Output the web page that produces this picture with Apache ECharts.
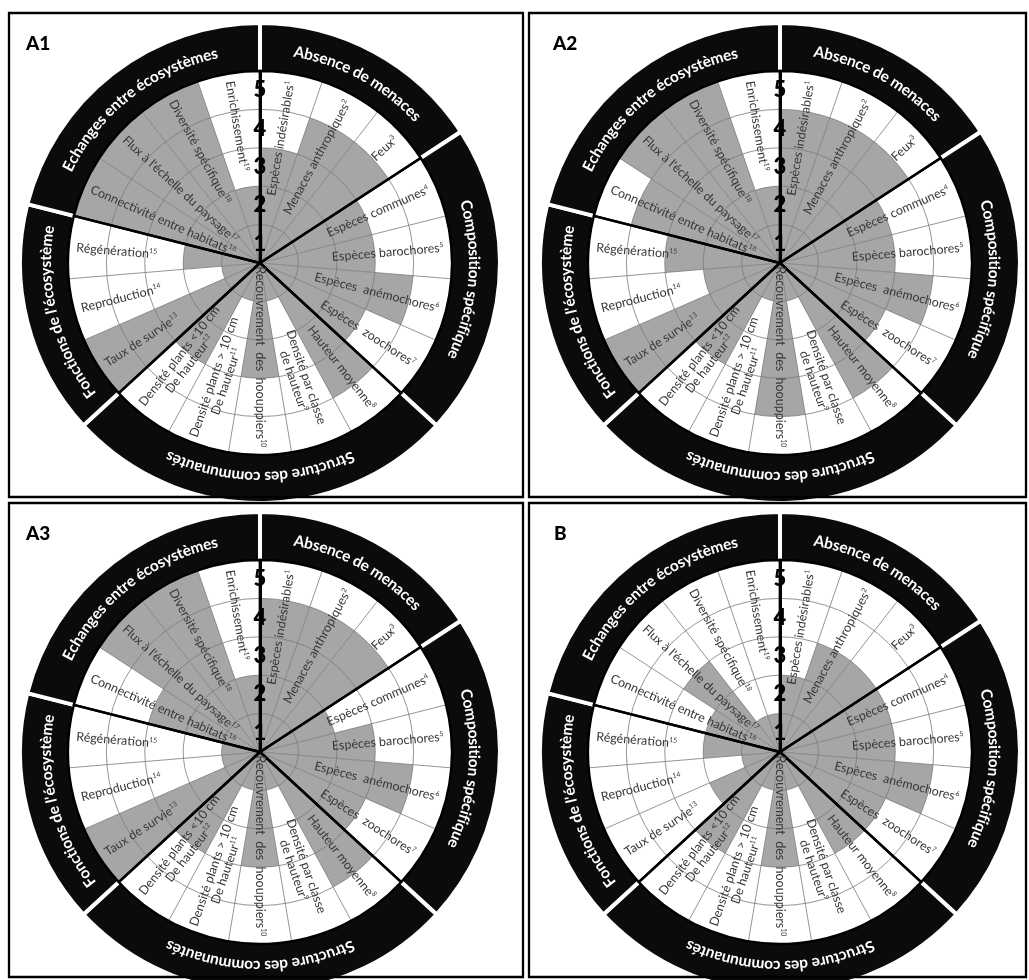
<!DOCTYPE html>
<html><head><meta charset="utf-8">
<script src="https://cdn.jsdelivr.net/npm/echarts@6/dist/echarts.min.js"></script>
<style>html,body{margin:0;padding:0;background:#fff}#c{width:1029px;height:980px}</style>
</head><body><div id="c"></div>
<script>
const categories = [
  'Espèces indésirables', 'Menaces anthropiques', 'Feux', 'Espèces communes',
  'Espèces barochores', 'Espèces  anémochores', 'Espèces  zoochores', 'Hauteur moyenne',
  'Densité par classe\nde hauteur', 'Recouvrement  des  hoouppiers', 'Densité plants > 10 cm\nDe hauteur',
  'Densité plants <10 cm\nDe hauteur', 'Taux de survie', 'Reproduction', 'Régénération',
  'Connectivité entre habitats', "Flux à l'échelle du paysage", 'Diversité spécifique', 'Enrichissement'
];
const groupNames = ['Absence de menaces', 'Composition spécifique', 'Structure des communautés',
  "Fonctions de l'écosystème", 'Echanges entre écosystèmes'];
const groupSizes = [3, 4, 5, 3, 4];
const radiusTicks = ['1', '2', '3', '4', '5'];
const panelNames = ['A1', 'A2', 'A3', 'B'];
const valuesA1 = [3, 4, 4, 3, 3, 4, 3, 4, 1, 3, 1, 3, 5, 1, 2, 5, 5, 5, 2];
const valuesA2 = [4, 4, 4, 3, 3, 4, 3, 4, 1, 4, 1, 3, 5, 2, 3, 4, 5, 5, 2];
const valuesA3 = [4, 4, 4, 2, 3, 4, 3, 4, 1, 3, 1, 3, 5, 1, 1, 3, 5, 5, 2];
const valuesB  = [2, 3, 3, 3, 3, 4, 3, 3, 1, 3, 1, 3, 2, 1, 2, 2, 3, 1, 1];
const panelValues = [valuesA1, valuesA2, valuesA3, valuesB];

// layout
const panels = [
  {cx: 260, cy: 263, lx: 26, ly: 34, box: [9, 13, 514, 484]},
  {cx: 780, cy: 263, lx: 553, ly: 34, box: [529, 13, 497, 484]},
  {cx: 260, cy: 752, lx: 26, ly: 524, box: [9, 503, 514, 474]},
  {cx: 780, cy: 752, lx: 554, ly: 524, box: [529, 503, 497, 474]}
];
const R5 = 192, RING_IN = 190, RING_OUT = 240, R_TEXT = 214;
const GRID = '#7a7a7a', FILL = '#a6a6a6', TXT = '#383838';
const ringFont = 'bold 15.5px Lato';

const measureCtx = document.createElement('canvas').getContext('2d');
measureCtx.font = ringFont;

const option = {
  animation: false,
  backgroundColor: '#fff',
  polar: [], angleAxis: [], radiusAxis: [], series: [], graphic: []
};

function labelText(name, i) {
  const lines = name.split('\n');
  return lines.map((l, k) => '{t|' + l + '}' + (k === lines.length - 1 ? '{s|' + (i + 1) + '}' : '')).join('\n');
}

panels.forEach((P, p) => {
  const main = 2 * p, aux = 2 * p + 1;
  option.polar.push({center: [P.cx, P.cy], radius: R5});
  option.polar.push({center: [P.cx, P.cy], radius: R5});
  option.angleAxis.push({
    polarIndex: main, type: 'category', data: categories, startAngle: 90, clockwise: true,
    boundaryGap: true, z: 3,
    axisLine: {show: false}, axisTick: {show: false}, axisLabel: {show: false},
    splitLine: {show: true, lineStyle: {color: GRID, width: 0.8}}
  });
  option.radiusAxis.push({
    polarIndex: main, type: 'value', min: 0, max: 5, interval: 1, z: 3,
    axisLine: {show: true, lineStyle: {color: '#000', width: 3}},
    axisTick: {show: false}, axisLabel: {show: false},
    splitLine: {show: true, lineStyle: {color: GRID, width: 0.8}}
  });
  option.angleAxis.push({polarIndex: aux, type: 'value', min: 0, max: 19, startAngle: 90, show: false});
  option.radiusAxis.push({
    polarIndex: aux, type: 'category', data: radiusTicks, z: 6,
    axisLine: {show: false}, axisTick: {show: false}, splitLine: {show: false},
    axisLabel: {show: true, margin: 0, align: 'center', verticalAlign: 'middle',
      fontSize: 22, fontWeight: 900, color: '#000', fontFamily: 'Lato'}
  });

  // black outer ring with group gaps
  option.series.push({
    type: 'pie', center: [P.cx, P.cy], radius: [RING_IN, RING_OUT], startAngle: 90, clockwise: true,
    silent: true, z: 1, label: {show: false}, labelLine: {show: false}, emphasis: {disabled: true},
    itemStyle: {color: '#0b0b0b', borderColor: '#fff', borderWidth: 4},
    data: groupSizes.map((v, i) => ({value: v, name: groupNames[i]}))
  });
  // bars
  option.series.push({
    type: 'bar', coordinateSystem: 'polar', polarIndex: main, barCategoryGap: '0%', z: 2,
    itemStyle: {color: FILL}, silent: true,
    data: panelValues[p]
  });
  // group dividers
  option.series.push({
    type: 'pie', center: [P.cx, P.cy], radius: [0, R5], startAngle: 90, clockwise: true,
    silent: true, z: 4, label: {show: false}, labelLine: {show: false}, emphasis: {disabled: true},
    itemStyle: {color: 'rgba(0,0,0,0)', borderColor: '#000', borderWidth: 2.4},
    data: groupSizes.map((v, i) => ({value: v, name: groupNames[i]}))
  });
  // sector labels
  option.series.push({
    type: 'custom', coordinateSystem: 'polar', polarIndex: main, z: 5, silent: true,
    data: categories.map((c, i) => [5, i]),
    renderItem: function (params, api) {
      const i = params.dataIndex;
      const name = categories[i];
      const multi = name.indexOf('\n') >= 0;
      const c0 = api.coord([0, i]);
      const pt = api.coord([multi ? 3.2 : 4.8, i]);
      const dx = pt[0] - c0[0], dy = pt[1] - c0[1];
      let th = Math.atan2(dx, -dy) * 180 / Math.PI;
      if (th < 0) th += 360;
      const right = th <= 180.5;
      const phi = (right ? 90 - th : 270 - th) * Math.PI / 180;
      return {
        type: 'text', x: pt[0], y: pt[1], rotation: phi,
        style: {
          text: labelText(name, i),
          align: multi ? 'center' : (right ? 'right' : 'left'),
          verticalAlign: 'middle',
          rich: {
            t: {fontSize: 12.5, fontFamily: 'Lato', fill: TXT, lineHeight: 13},
            s: {fontSize: 7, fontFamily: 'Lato', fill: TXT, lineHeight: 8, verticalAlign: 'top'}
          }
        }
      };
    }
  });

  // panel border and label
  option.graphic.push({type: 'rect', silent: true, z: 20,
    shape: {x: P.box[0], y: P.box[1], width: P.box[2], height: P.box[3]},
    style: {fill: 'none', stroke: '#000', lineWidth: 2.3}});
  option.graphic.push({type: 'text', x: P.lx, y: P.ly, silent: true, z: 20,
    style: {text: panelNames[p], font: '900 19px Lato', fill: '#000', verticalAlign: 'top'}});

  // curved group names on the ring
  const total = groupSizes.reduce((a, b) => a + b, 0);
  let cum = 0;
  groupNames.forEach((gname, g) => {
    const a0 = cum / total * 360, a1 = (cum + groupSizes[g]) / total * 360;
    cum += groupSizes[g];
    const mid = (a0 + a1) / 2;
    const chars = Array.from(gname);
    const widths = chars.map(ch => measureCtx.measureText(ch).width);
    const W = widths.reduce((a, b) => a + b, 0);
    let acc = 0;
    const start = mid - (W / 2) / R_TEXT * 180 / Math.PI;
    chars.forEach((ch, k) => {
      const th = start + (acc + widths[k] / 2) / R_TEXT * 180 / Math.PI;
      acc += widths[k];
      const rad = th * Math.PI / 180;
      option.graphic.push({
        type: 'text', silent: true, z: 15,
        x: P.cx + R_TEXT * Math.sin(rad), y: P.cy - R_TEXT * Math.cos(rad), rotation: -rad,
        style: {text: ch, font: ringFont, fill: '#fff', align: 'center', verticalAlign: 'middle'}
      });
    });
  });
});

const chart = echarts.init(document.getElementById('c'), null, {renderer: 'canvas'});
chart.setOption(option);
</script>
</body></html>
